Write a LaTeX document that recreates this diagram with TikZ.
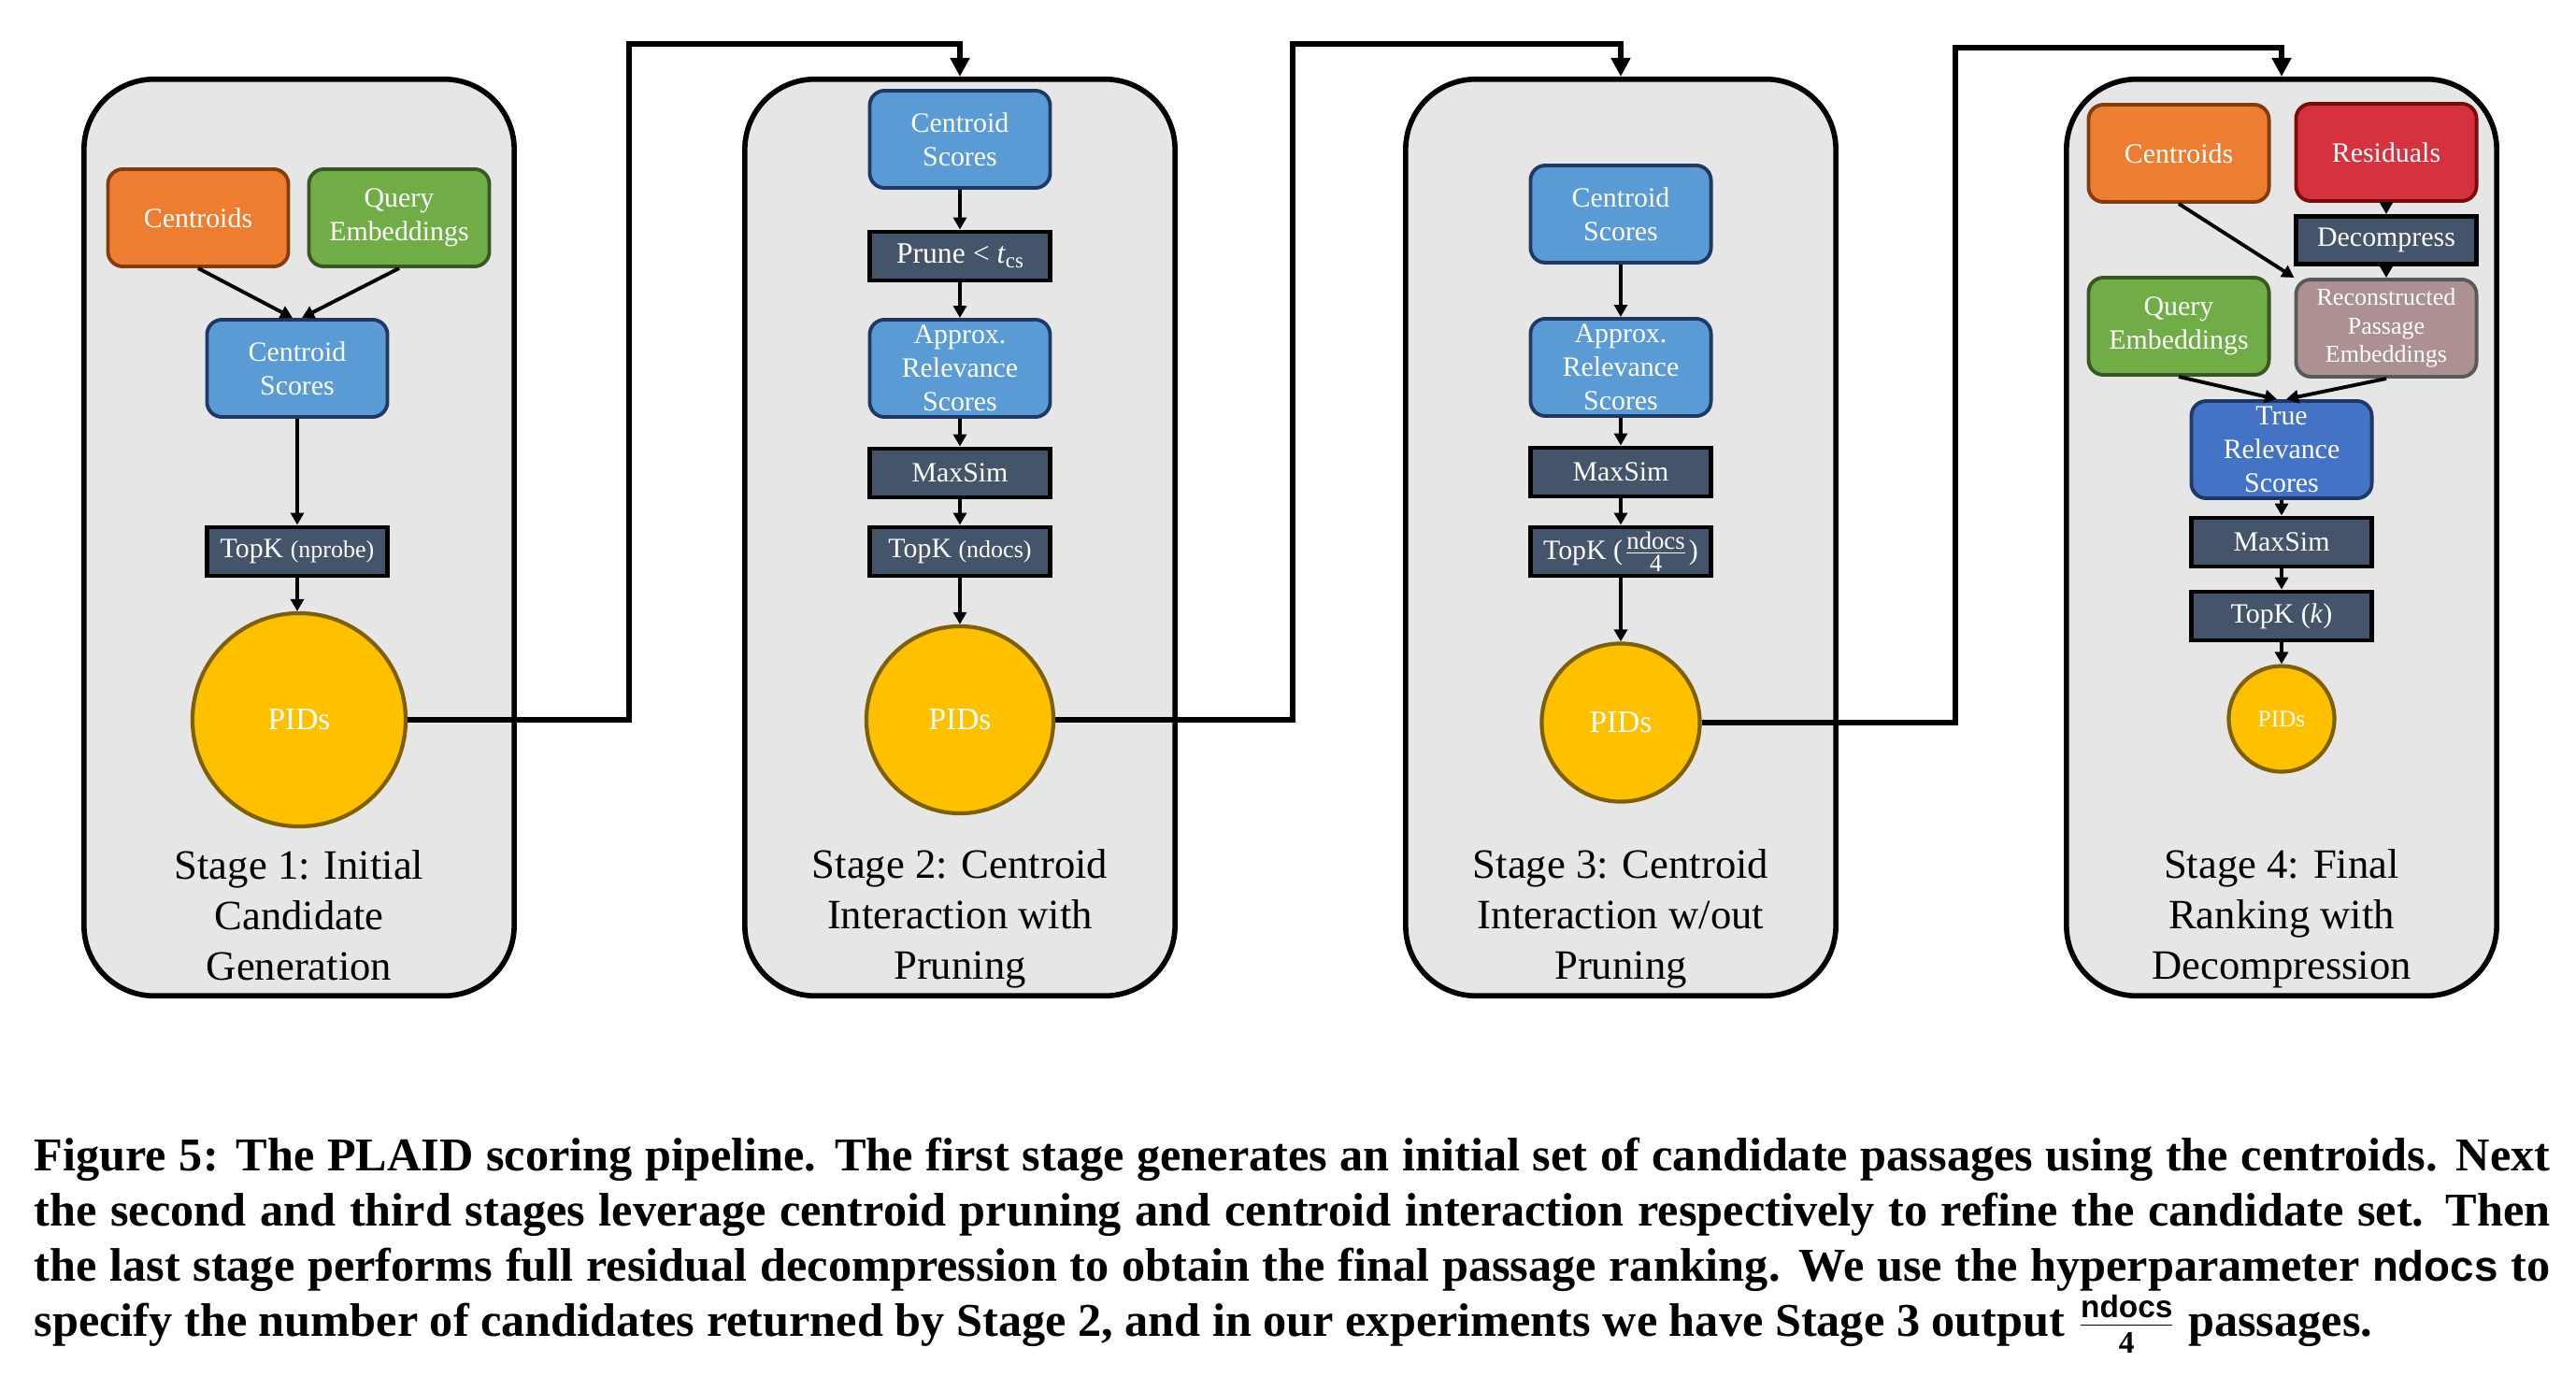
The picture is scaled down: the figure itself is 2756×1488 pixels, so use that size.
\documentclass[tikz,border=0pt]{standalone}
\usepackage{fontspec}
\setmainfont{Liberation Serif}
\setsansfont{Liberation Sans}
\usetikzlibrary{arrows.meta,calc}
\definecolor{stagebg}{HTML}{E7E6E6}
\definecolor{orangef}{HTML}{ED7D31}
\definecolor{oranged}{HTML}{843C0C}
\definecolor{greenf}{HTML}{70AD47}
\definecolor{greend}{HTML}{385723}
\definecolor{bluef}{HTML}{5B9BD5}
\definecolor{blued}{HTML}{1F3864}
\definecolor{truef}{HTML}{4472C4}
\definecolor{darkf}{HTML}{44546A}
\definecolor{pidf}{HTML}{FFC000}
\definecolor{pidd}{HTML}{7F6000}
\definecolor{redf}{HTML}{D5313F}
\definecolor{redd}{HTML}{7B0A0A}
\definecolor{recf}{HTML}{AD9192}
\definecolor{recd}{HTML}{595959}
\newcommand{\paren}[1]{{\fontsize{7.4}{8}\selectfont(#1)}}
\begin{document}
\begin{tikzpicture}[x=0.01cm,y=-0.01cm,
  stagebox/.style={draw=black,line width=1.6pt,fill=stagebg,rounded corners=0.75cm,minimum width=4.6cm,minimum height=9.8cm,inner sep=0pt},
  rbox/.style={rounded corners=0.16cm,line width=1.1pt,minimum width=1.93cm,minimum height=1.04cm,inner sep=0pt,align=center,text=white,font=\fontsize{8.5}{10.2}\selectfont},
  orangebox/.style={rbox,fill=orangef,draw=oranged},
  greenbox/.style={rbox,fill=greenf,draw=greend},
  bluebox/.style={rbox,fill=bluef,draw=blued},
  truebox/.style={rbox,fill=truef,draw=blued},
  redbox/.style={rbox,fill=redf,draw=redd},
  recbox/.style={rbox,fill=recf,draw=recd,font=\fontsize{7.4}{8.6}\selectfont},
  darkbox/.style={draw=black,line width=1.4pt,fill=darkf,minimum width=1.93cm,minimum height=0.52cm,inner sep=0pt,align=center,text=white,font=\fontsize{8.5}{10}\selectfont},
  pidnode/.style={circle,fill=pidf,draw=pidd,line width=1.2pt,inner sep=0pt,text=white,font=\fontsize{9.5}{10}\selectfont},
  stagelabel/.style={align=center,font=\fontsize{12.7}{15.4}\selectfont},
  arr/.style={-{Triangle[length=0.13cm,width=0.14cm]},line width=1.1pt},
  conn/.style={-{Triangle[length=0.2cm,width=0.2cm]},line width=1.5pt}]
\fill[white] (0,0) rectangle (2756,1488);
\useasboundingbox (0,0) rectangle (2756,1488);
% containers
\node[stagebox] (stage1) at (320,575) {};
\node[stagebox] (stage2) at (1027,575) {};
\node[stagebox] (stage3) at (1734,575) {};
\node[stagebox] (stage4) at (2441,575) {};
% stage 1
\node[orangebox] (cent1) at (212,233) {Centroids};
\node[greenbox] (query1) at (427,233) {Query\\Embeddings};
\node[bluebox] (cs1) at (318,394) {Centroid\\Scores};
\node[darkbox] (topk1) at (318,590) {TopK \paren{nprobe}};
\node[pidnode,minimum size=2.28cm] (pid1) at (320,770) {PIDs};
\node[stagelabel] (lab1) at (320,979) {Stage 1: Initial\\Candidate\\Generation};
\draw[arr] (cent1.south) -- ($(cs1.north)+(-5,0)$);
\draw[arr] (query1.south) -- ($(cs1.north)+(5,0)$);
\draw[arr] (cs1) -- (topk1);
\draw[arr] (topk1) -- (topk1 |- pid1.north);
% stage 2
\node[bluebox] (cs2) at (1027,149) {Centroid\\Scores};
\node[darkbox,font=\fontsize{9}{10}\selectfont] (prune2) at (1027,274) {Prune < \textit{t}\raisebox{-0.35ex}{\fontsize{6.5}{7}\selectfont cs}};
\node[bluebox] (ars2) at (1027,394) {Approx.\\Relevance\\Scores};
\node[darkbox] (max2) at (1027,506) {MaxSim};
\node[darkbox] (topk2) at (1027,590) {TopK \paren{ndocs}};
\node[pidnode,minimum size=2.0cm] (pid2) at (1027,770) {PIDs};
\node[stagelabel] (lab2) at (1027,983) {Stage 2: Centroid\\Interaction with\\Pruning};
\draw[arr] (cs2) -- (prune2);
\draw[arr] (prune2) -- (ars2);
\draw[arr] (ars2) -- (max2);
\draw[arr] (max2) -- (topk2);
\draw[arr] (topk2) -- (pid2);
% stage 3
\node[bluebox] (cs3) at (1734,229) {Centroid\\Scores};
\node[bluebox] (ars3) at (1734,393) {Approx.\\Relevance\\Scores};
\node[darkbox] (max3) at (1734,505) {MaxSim};
\node[darkbox] (topk3) at (1734,590) {TopK ($\frac{\mbox{\fontsize{7.6}{7.6}\selectfont ndocs}}{\mbox{\fontsize{7.6}{7.6}\selectfont 4}}$)};
\node[pidnode,minimum size=1.69cm] (pid3) at (1734,773) {PIDs};
\node[stagelabel] (lab3) at (1734,983) {Stage 3: Centroid\\Interaction w/out\\Pruning};
\draw[arr] (cs3) -- (ars3);
\draw[arr] (ars3) -- (max3);
\draw[arr] (max3) -- (topk3);
\draw[arr] (topk3) -- (pid3);
% stage 4
\node[orangebox] (cent4) at (2331,164) {Centroids};
\node[redbox] (res4) at (2553,163) {Residuals};
\node[darkbox,minimum height=0.51cm] (dec4) at (2553,257) {Decompress};
\node[greenbox] (query4) at (2331,349) {Query\\Embeddings};
\node[recbox] (rec4) at (2553,351) {Reconstructed\\Passage\\Embeddings};
\node[truebox] (true4) at (2441,481) {True\\Relevance\\Scores};
\node[darkbox] (max4) at (2441,580) {MaxSim};
\node[darkbox] (topk4) at (2441,659) {TopK (\textit{k})};
\node[pidnode,minimum size=1.13cm,font=\fontsize{7.2}{8}\selectfont] (pid4) at (2441,769) {PIDs};
\node[stagelabel] (lab4) at (2441,983) {Stage 4: Final\\Ranking with\\Decompression};
\draw[arr] (res4) -- (dec4);
\draw[arr] (dec4) -- (rec4);
\draw[arr] (cent4.south) -- (rec4.north west);
\draw[arr] (query4.south) -- ($(true4.north)+(-5,0)$);
\draw[arr] (rec4.south) -- ($(true4.north)+(5,0)$);
\draw[arr] (true4) -- (max4);
\draw[arr] (max4) -- (topk4);
\draw[arr] (topk4) -- (pid4);
% connectors between stages
\draw[conn] (pid1.east) -- (673,770) -- (673,47) -- (1027,47) -- (stage2.north);
\draw[conn] (pid2.east) -- (1383,770) -- (1383,47) -- (1734,47) -- (stage3.north);
\draw[conn] (pid3.east) -- (2092,773) -- (2092,51) -- (2441,51) -- (stage4.north);
% caption
\node[anchor=north west,inner sep=0pt,text width=26.9cm,align=justify,font=\fontsize{14.3}{16.85}\selectfont\bfseries] (caption) at (36,1216) {Figure 5: The PLAID scoring pipeline. The first stage generates an initial set of candidate passages using the centroids. Next\linebreak
the second and third stages leverage centroid pruning and centroid interaction respectively to refine the candidate set. Then\linebreak
the last stage performs full residual decompression to obtain the final passage ranking. We use the hyperparameter {\sffamily\fontsize{13}{16}\selectfont ndocs} to\linebreak
specify the number of candidates returned by Stage 2, and in our experiments we have Stage 3 output $\frac{\mbox{\sffamily\bfseries\fontsize{9.5}{9.5}\selectfont ndocs}}{\mbox{\bfseries\fontsize{9.5}{9.5}\selectfont 4}}$ passages.};
\end{tikzpicture}
\end{document}
